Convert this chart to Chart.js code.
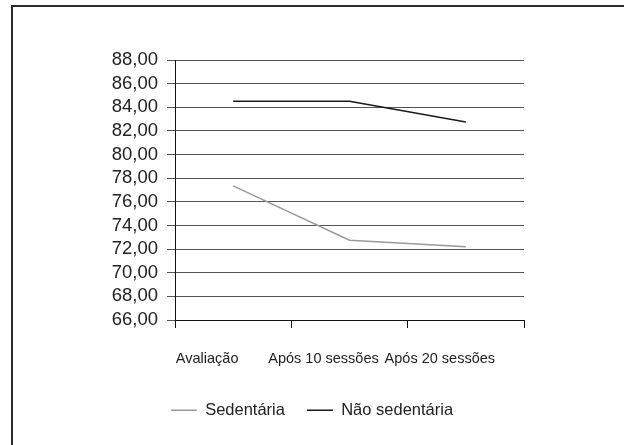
<!DOCTYPE html>
<html lang="pt">
  <head>
    <meta charset="UTF-8" />
    <title>Evolução do peso</title>
    <script src="https://cdn.jsdelivr.net/npm/chart.js@4"></script>
    <style>
      body { margin: 0; background: #fff; overflow: hidden; }
      #wrap { position: relative; width: 624px; height: 445px; }
      #frame {
        position: absolute; left: 11px; top: 5px; right: -10px; bottom: -10px;
        border-top: 2px solid #2b2b2b; border-left: 2px solid #2b2b2b;
        pointer-events: none;
      }
      canvas { position: absolute; left: 0; top: 0; }
    </style>
  </head>
  <body>
    <div id="wrap">
      <canvas id="myChart" width="624" height="445"></canvas>
      <div id="frame"></div>
    </div>
    <script>
      const momentos = ['Avaliação', 'Após 10 sessões', 'Após 20 sessões'];
      const sedentaria = [77.35, 72.75, 72.2];
      const naoSedentaria = [84.5, 84.5, 82.75];
      const yMin = 66;
      const yMax = 88;
      const yStep = 2;

      const fonte = "'Liberation Sans', Arial, sans-serif";

      const ctx = document.getElementById('myChart').getContext('2d');
      const myChart = new Chart(ctx, {
        type: 'line',
        data: {
          labels: momentos,
          datasets: [{
            label: 'Sedentária',
            data: sedentaria,
            borderColor: '#9a9a9a',
            backgroundColor: '#9a9a9a',
            borderWidth: 1.5,
            pointRadius: 0,
            tension: 0
          }, {
            label: 'Não sedentária',
            data: naoSedentaria,
            borderColor: '#1a1a1a',
            backgroundColor: '#1a1a1a',
            borderWidth: 1.5,
            pointRadius: 0,
            tension: 0
          }]
        },
        options: {
          responsive: false,
          animation: false,
          layout: { padding: { left: 0, right: 0, top: 60, bottom: 16.5 } },
          plugins: {
            tooltip: { enabled: false },
            legend: {
              position: 'bottom',
              labels: {
                usePointStyle: true,
                pointStyle: 'line',
                pointStyleWidth: 26,
                padding: 22,
                color: '#222',
                font: { family: fonte, size: 16.5 }
              }
            }
          },
          scales: {
            x: {
              offset: true,
              grid: {
                offset: true,
                drawOnChartArea: false,
                drawTicks: true,
                tickLength: 8,
                color: '#111'
              },
              border: { color: '#111', width: 1 },
              ticks: {
                padding: 22,
                maxRotation: 0,
                autoSkip: false,
                labelOffset: -26,
                color: '#222',
                font: { family: fonte, size: 14.5 }
              },
              afterFit(scale) { scale.height = 60; }
            },
            y: {
              min: yMin,
              max: yMax,
              grid: { color: '#555', tickLength: 8 },
              border: { color: '#111', width: 1 },
              ticks: {
                stepSize: yStep,
                autoSkip: false,
                padding: 9,
                color: '#222',
                font: { family: fonte, size: 18.5 },
                callback: v => v.toFixed(2).replace('.', ',')
              },
              afterFit(scale) { scale.width = 175; }
            },
            // empty axis on the right keeps the plot narrower than the legend row
            espaco: {
              position: 'right',
              grid: { display: false },
              border: { display: false },
              ticks: { display: false },
              afterFit(scale) { scale.width = 100; }
            }
          }
        }
      });
    </script>
  </body>
</html>
